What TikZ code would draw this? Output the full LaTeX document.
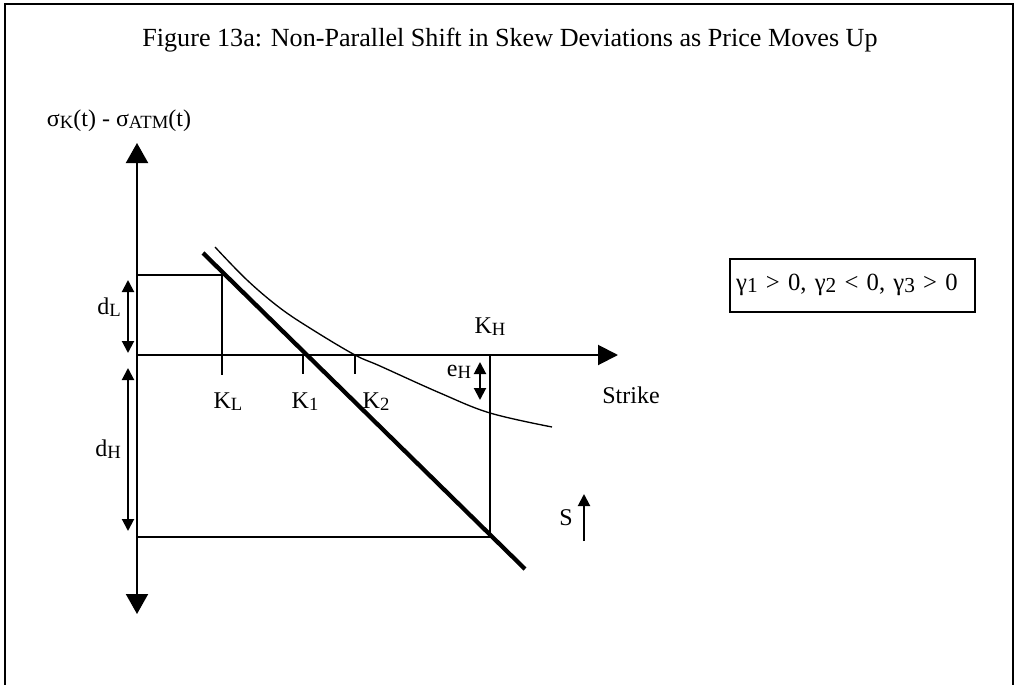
\documentclass[tikz,border=0pt]{standalone}
\usepackage{fontspec}
\setmainfont{Liberation Serif}
\usetikzlibrary{arrows.meta}
\newcommand{\lowsub}[1]{\raisebox{-0.2ex}{\fontsize{14}{14}\selectfont #1}}
\newcommand{\gsub}[1]{\raisebox{-0.2ex}{\fontsize{16}{16}\selectfont #1}}
\begin{document}
\begin{tikzpicture}[x=0.75pt, y=-0.75pt,
        axis/.style={line width=1.5pt, {Triangle[length=15pt,width=16.5pt]}-{Triangle[length=15pt,width=16.5pt]}},
        xaxis/.style={line width=1.5pt, -{Triangle[length=15pt,width=15pt]}},
        guide/.style={line width=1.5pt},
        span/.style={line width=1.5pt, {Triangle[length=9pt,width=9pt]}-{Triangle[length=9pt,width=9pt]}},
        lbl/.style={inner sep=0pt},
        every node/.style={font=\fontsize{18}{21}\selectfont}
        ]
      \useasboundingbox (0,0) rectangle (1018,685);
      % frame
      \draw[line width=2pt] (5,685) -- (5,4) -- (1013,4) -- (1013,685);

      \node[lbl, font=\fontsize{19.6}{22}\selectfont] (title) at (510,40) {Figure 13a: Non-Parallel Shift in Skew Deviations as Price Moves Up};
      \node[lbl] (ylab) at (119,121) {σ\lowsub{K}(t) - σ\lowsub{ATM}(t)};

      % axes
      \coordinate (ytop) at (137,143);
      \coordinate (ybot) at (137,614);
      \coordinate (o) at (137,355);
      \coordinate (xend) at (618,355);
      \draw[axis] (ytop) -- (ybot);
      \draw[xaxis] (o) -- (xend);

      % strikes
      \coordinate (dl) at (137,275);
      \coordinate (kl) at (222,275);
      \coordinate (kltick) at (222,375);
      \coordinate (k1) at (303,355);
      \coordinate (k1tick) at (303,374);
      \coordinate (k2) at (355,355);
      \coordinate (k2tick) at (355,374);
      \coordinate (kh) at (490,355);
      \coordinate (khlow) at (490,537);
      \coordinate (dh) at (137,537);
      \draw[guide] (dl) -- (kl) -- (kltick);
      \draw[guide] (k1) -- (k1tick);
      \draw[guide] (k2) -- (k2tick);
      \draw[guide] (kh) -- (khlow) -- (dh);

      % skews
      \coordinate (s0) at (203,253);
      \coordinate (s1) at (525,569);
      \draw[line width=3.2pt] (s0) -- (s1);
      \draw[line width=1pt] plot[smooth, tension=0.6] coordinates {(215,247) (247,280) (280,308) (313,330) (355,355) (380,366) (440,393) (490,413) (552,427)};

      % spans
      \coordinate (dltop) at (128,280);
      \coordinate (dlbot) at (128,353);
      \coordinate (dhtop) at (128,368);
      \coordinate (dhbot) at (128,531);
      \coordinate (ehtop) at (480,362);
      \coordinate (ehbot) at (480,400);
      \coordinate (sbot) at (584,541);
      \coordinate (stop) at (584,494);
      \draw[span] (dltop) -- (dlbot);
      \draw[span] (dhtop) -- (dhbot);
      \draw[span] (ehtop) -- (ehbot);
      \draw[line width=1.5pt, -{Triangle[length=9pt,width=9pt]}] (sbot) -- (stop);

      \node[lbl] (dL) at (109,307) {d\lowsub{L}};
      \node[lbl] (dH) at (108,449) {d\lowsub{H}};
      \node[lbl] (KL) at (228,402) {K\lowsub{L}};
      \node[lbl] (K1) at (305,402) {K\lowsub{1}};
      \node[lbl] (K2) at (376,402) {K\lowsub{2}};
      \node[lbl] (KH) at (490,327) {K\lowsub{H}};
      \node[lbl] (eH) at (459,372) {e\lowsub{H}};
      \node[lbl] (strike) at (631,395) {Strike};
      \node[lbl] (S) at (566,518) {S};
      \node[draw, line width=1.5pt, minimum width=183.75pt, minimum height=39.75pt, inner xsep=5pt, inner ysep=0pt, text width=173.75pt, align=left, font=\fontsize{18.5}{22}\selectfont] (gam) at (852,285) {γ\gsub{1} {\textgreater} 0, γ\gsub{2} {\textless} 0, γ\gsub{3} {\textgreater} 0};

    \end{tikzpicture}
\end{document}
